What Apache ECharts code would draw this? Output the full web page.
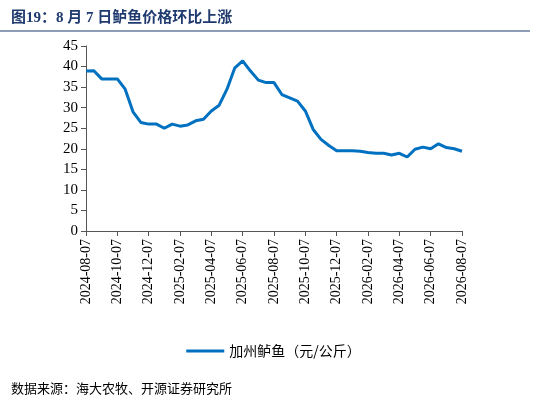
<!DOCTYPE html><html><head><meta charset="utf-8">
<script src="https://cdn.jsdelivr.net/npm/echarts@6/dist/echarts.min.js"></script>
<style>body{margin:0}#c{width:547px;height:401px}</style></head><body><div id="c"></div>
<script>
const months=['2024-08','2024-09','2024-10','2024-11','2024-12','2025-01','2025-02','2025-03','2025-04','2025-05','2025-06','2025-07','2025-08','2025-09','2025-10','2025-11','2025-12','2026-01','2026-02','2026-03','2026-04','2026-05','2026-06','2026-07','2026-08'];
const categories=[];
months.forEach((m,i)=>{categories.push(m+'-07');if(i<months.length-1)categories.push(m+'-22');});
const values=[38.9,39,37,37,37,34.5,29,26.4,26,26,25,26,25.5,25.8,26.8,27.2,29.2,30.6,34.5,39.7,41.4,38.9,36.7,36.1,36.1,33.2,32.4,31.6,29.2,24.7,22.3,20.8,19.5,19.5,19.5,19.4,19.1,18.9,18.9,18.5,18.9,18,19.9,20.4,20,21.2,20.3,20,19.4];
const seriesName='加州鲈鱼（元/公斤）';
const ch=echarts.init(document.getElementById('c'));
const serif='"Liberation Serif","Noto Sans CJK SC",serif';
ch.setOption({
 animation:false,
 title:[{text:'图19：8 月 7 日鲈鱼价格环比上涨',left:6,top:6,textStyle:{fontSize:15,fontWeight:'bold',color:'#1F3A6E',fontFamily:'"Liberation Serif","Noto Sans CJK SC"'}},
  {text:'数据来源：海大农牧、开源证券研究所',left:6,top:377,textStyle:{fontSize:13,fontWeight:'normal',color:'#000',fontFamily:'"Noto Sans CJK SC"'}}],
 graphic:[{type:'line',shape:{x1:0,y1:31,x2:530,y2:31},style:{stroke:'#1F3A6E',lineWidth:1}}],
 legend:{bottom:38,left:'center',itemWidth:38,icon:'rect',itemHeight:3,textStyle:{fontSize:14,fontFamily:'"Noto Sans CJK SC"',color:'#000'},data:[seriesName]},
 grid:{left:86,right:85,top:46,bottom:170},
 xAxis:{type:'category',data:categories,boundaryGap:false,
  axisLine:{lineStyle:{color:'#555'}},axisTick:{interval:3,alignWithLabel:true,lineStyle:{color:'#555'}},
  axisLabel:{interval:3,rotate:90,fontSize:14,color:'#000',fontFamily:serif}},
 yAxis:{type:'value',min:0,max:45,interval:5,splitLine:{show:false},
  axisLine:{show:true,lineStyle:{color:'#555'}},axisTick:{show:true,lineStyle:{color:'#555'}},
  axisLabel:{fontSize:15,color:'#000',fontFamily:serif}},
 series:[{name:seriesName,type:'line',data:values,showSymbol:false,lineStyle:{color:'#0070C0',width:3},itemStyle:{color:'#0070C0'}}]
});
</script></body></html>
